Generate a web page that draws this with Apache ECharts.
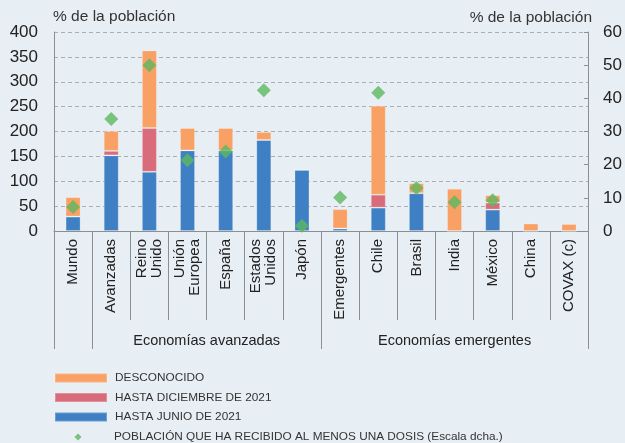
<!DOCTYPE html>
<html>
<head>
<meta charset="utf-8">
<script src="https://cdn.jsdelivr.net/npm/echarts@6/dist/echarts.min.js"></script>
<style>
  html, body { margin: 0; padding: 0; background: #E7EEF4; overflow: hidden; }
  #chart { width: 625px; height: 443px; }
</style>
</head>
<body>
<div id="chart"></div>
<script>
// Vaccine doses secured, % of population (left) and share with at least one dose (right)
const categories = ['Mundo', 'Avanzadas', 'Reino\nUnido', 'Unión\nEuropea', 'España', 'Estados\nUnidos', 'Japón',
  'Emergentes', 'Chile', 'Brasil', 'India', 'México', 'China', 'COVAX (c)'];

const hastaJunio     = [29, 152, 119, 162, 162, 183, 123, 5, 47, 76, 0, 43, 0, 0];
const hastaDiciembre = [0, 9, 88, 0, 0, 0, 0, 0, 26, 0, 0, 14, 0, 0];
const desconocido    = [39, 40, 156, 45, 45, 16, 0, 39, 179, 20, 85, 15, 15, 14];
const unaDosis       = [7.2, 33.8, 50, 21.3, 24, 42.4, 1.6, 10.1, 41.7, 13, 8.7, 9.3, null, null];

const leftTicks = { min: 0, max: 400, interval: 50 };
const rightTicks = { min: 0, max: 60, interval: 10 };

// Group bands along the category axis (in category units)
const groupBounds = [0, 1, 7, 14];
const groupLabels = [
  { at: 4, text: 'Economías avanzadas' },
  { at: 10.5, text: 'Economías emergentes' }
];

const FONT = "'Liberation Sans', Arial, Helvetica, sans-serif";
const AXIS_GREY = '#8C8F92';

const NAME_JUN = 'HASTA JUNIO DE 2021';
const NAME_DIC = 'HASTA DICIEMBRE DE 2021';
const NAME_DES = 'DESCONOCIDO';
const NAME_DOS = 'POBLACIÓN QUE HA RECIBIDO AL MENOS UNA DOSIS (Escala dcha.)';

const chart = echarts.init(document.getElementById('chart'), null, { renderer: 'canvas' });

const barStyle = (color) => ({
  color: color,
  borderColor: 'rgba(255,255,255,0.22)',
  borderWidth: 1
});

const legendText = { fontFamily: FONT, fontSize: 11.8, color: '#333', lineHeight: 14 };

chart.setOption({
  backgroundColor: '#E7EEF4',
  animation: false,
  textStyle: { fontFamily: FONT },
  title: [
    {
      text: '% de la población', left: 48, top: 4,
      textStyle: { fontFamily: FONT, fontSize: 15.5, fontWeight: 'normal', color: '#333' }
    },
    {
      text: '% de la población', right: 28, top: 5,
      textStyle: { fontFamily: FONT, fontSize: 15.5, fontWeight: 'normal', color: '#333' }
    }
  ],
  grid: { left: 54, right: 32.5, top: 32, bottom: 212, containLabel: false },
  legend: [
    {
      orient: 'vertical', left: 54, top: 371, padding: 0,
      itemWidth: 52, itemHeight: 9, itemGap: 5.5,
      textStyle: Object.assign({ padding: [0, 0, 0, 3] }, legendText),
      data: [
        { name: NAME_DES, icon: 'rect' },
        { name: NAME_DIC, icon: 'rect' },
        { name: NAME_JUN, icon: 'rect' }
      ]
    },
    {
      orient: 'vertical', left: 74.5, top: 430, padding: 0,
      itemWidth: 7, itemHeight: 7,
      textStyle: Object.assign({ padding: [0, 0, 0, 27.5] }, legendText),
      data: [{ name: NAME_DOS, icon: 'diamond' }]
    }
  ],
  xAxis: [
    {
      type: 'category', data: categories,
      axisLine: { show: true, lineStyle: { color: AXIS_GREY, width: 1 } },
      axisTick: { show: true, interval: 0, length: 89, lineStyle: { color: AXIS_GREY } },
      axisLabel: {
        interval: 0, rotate: 90, margin: 8,
        fontFamily: FONT, fontSize: 15, lineHeight: 15, color: '#222'
      },
      splitLine: { show: false }
    },
    {
      type: 'value', min: 0, max: 14, position: 'bottom',
      axisLine: { show: false },
      axisTick: { show: true, customValues: groupBounds, length: 118, lineStyle: { color: AXIS_GREY } },
      axisLabel: {
        customValues: groupLabels.map(g => g.at),
        formatter: (v) => {
          const g = groupLabels.find(x => Math.abs(x.at - v) < 1e-6);
          return g ? g.text : '';
        },
        margin: 102, fontFamily: FONT, fontSize: 14.5, color: '#222'
      },
      splitLine: { show: false }
    }
  ],
  yAxis: [
    {
      type: 'value', position: 'left', ...leftTicks,
      axisLine: { show: true, lineStyle: { color: AXIS_GREY } },
      axisTick: { show: false },
      axisLabel: { margin: 16, fontFamily: FONT, fontSize: 17, color: '#222' },
      splitLine: { show: true, lineStyle: { color: '#A9AFB3', type: [4, 3], width: 1.2 } }
    },
    {
      type: 'value', position: 'right', ...rightTicks,
      axisLine: { show: true, lineStyle: { color: AXIS_GREY } },
      axisTick: { show: true, inside: true, length: 4, lineStyle: { color: AXIS_GREY } },
      axisLabel: { margin: 15, fontFamily: FONT, fontSize: 17, color: '#222' },
      splitLine: { show: false }
    }
  ],
  series: [
    {
      name: NAME_JUN, type: 'bar', stack: 'dosis', barWidth: 15,
      data: hastaJunio, itemStyle: barStyle('#3F80C4')
    },
    {
      name: NAME_DIC, type: 'bar', stack: 'dosis', barWidth: 15,
      data: hastaDiciembre, itemStyle: barStyle('#D96C7A')
    },
    {
      name: NAME_DES, type: 'bar', stack: 'dosis', barWidth: 15,
      data: desconocido, itemStyle: barStyle('#F9A064')
    },
    {
      name: NAME_DOS, type: 'scatter', yAxisIndex: 1, symbol: 'diamond', symbolSize: 14,
      data: unaDosis, itemStyle: { color: '#5CB860' }, z: 5
    }
  ]
});
</script>
</body>
</html>
